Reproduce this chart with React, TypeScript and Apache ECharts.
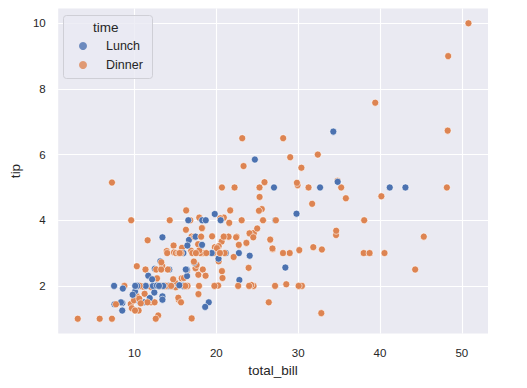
import React, { useEffect, useRef } from "react";
import * as echarts from "echarts";

// seaborn "tips" dataset: total_bill, tip, time (L = Lunch, D = Dinner)
const totalBill: number[] = [
  16.99, 10.34, 21.01, 23.68, 24.59, 25.29, 8.77, 26.88, 15.04, 14.78, 10.27, 35.26, 15.42, 18.43, 14.83, 21.58, 10.33, 16.29, 16.97, 20.65,
  17.92, 20.29, 15.77, 39.42, 19.82, 17.81, 13.37, 12.69, 21.7, 19.65, 9.55, 18.35, 15.06, 20.69, 17.78, 24.06, 16.31, 16.93, 18.69, 31.27,
  16.04, 17.46, 13.94, 9.68, 30.4, 18.29, 22.23, 32.4, 28.55, 18.04, 12.54, 10.29, 34.81, 9.94, 25.56, 19.49, 38.01, 26.41, 11.24, 48.27,
  20.29, 13.81, 11.02, 18.29, 17.59, 20.08, 16.45, 3.07, 20.23, 15.01, 12.02, 17.07, 26.86, 25.28, 14.73, 10.51, 17.92, 27.2, 22.76, 17.29,
  19.44, 16.66, 10.07, 32.68, 15.98, 34.83, 13.03, 18.28, 24.71, 21.16, 28.97, 22.49, 5.75, 16.32, 22.75, 40.17, 27.28, 12.03, 21.01, 12.46,
  11.35, 15.38, 44.3, 22.42, 20.92, 15.36, 20.49, 25.21, 18.24, 14.31, 14.0, 7.25, 38.07, 23.95, 25.71, 17.31, 29.93, 10.65, 12.43, 24.08,
  11.69, 13.42, 14.26, 15.95, 12.48, 29.8, 8.52, 14.52, 11.38, 22.82, 19.08, 20.27, 11.17, 12.26, 18.26, 8.51, 10.33, 14.15, 16.0, 13.16,
  17.47, 34.3, 41.19, 27.05, 16.43, 8.35, 18.64, 11.87, 9.78, 7.51, 14.07, 13.13, 17.26, 24.55, 19.77, 29.85, 48.17, 25.0, 13.39, 16.49,
  21.5, 12.66, 16.21, 13.81, 17.51, 24.52, 20.76, 31.71, 10.59, 10.63, 50.81, 15.81, 7.25, 31.85, 16.82, 32.9, 17.89, 14.48, 9.6, 34.63,
  34.65, 23.33, 45.35, 23.17, 40.55, 20.69, 20.9, 30.46, 18.15, 23.1, 15.69, 19.81, 28.44, 15.48, 16.58, 7.56, 10.34, 43.11, 13.0, 13.51,
  18.71, 12.74, 13.0, 16.4, 20.53, 16.47, 26.59, 38.73, 24.27, 12.76, 30.06, 25.89, 48.33, 13.27, 28.17, 12.9, 28.15, 11.59, 7.74, 30.14,
  12.16, 13.42, 8.58, 15.98, 13.42, 16.27, 10.09, 20.45, 13.28, 22.12, 24.01, 15.69, 11.61, 10.77, 15.53, 10.07, 12.6, 32.83, 35.83, 29.03,
  27.18, 22.67, 17.82, 18.78,
];

const tip: number[] = [
  1.01, 1.66, 3.5, 3.31, 3.61, 4.71, 2.0, 3.12, 1.96, 3.23, 1.71, 5.0, 1.57, 3.0, 3.02, 3.92, 1.67, 3.71, 3.5, 3.35,
  4.08, 2.75, 2.23, 7.58, 3.18, 2.34, 2.0, 2.0, 4.3, 3.0, 1.45, 2.5, 3.0, 2.45, 3.27, 3.6, 2.0, 3.07, 2.31, 5.0,
  2.24, 2.54, 3.06, 1.32, 5.6, 3.0, 5.0, 6.0, 2.05, 3.0, 2.5, 2.6, 5.2, 1.56, 4.34, 3.51, 3.0, 1.5, 1.76, 6.73,
  3.21, 2.0, 1.98, 3.76, 2.64, 3.15, 2.47, 1.0, 2.01, 2.09, 1.97, 3.0, 3.14, 5.0, 2.2, 1.25, 3.08, 4.0, 3.0, 2.71,
  3.0, 3.4, 1.83, 5.0, 2.03, 5.17, 2.0, 4.0, 5.85, 3.0, 3.0, 3.5, 1.0, 4.3, 3.25, 4.73, 4.0, 1.5, 3.0, 1.5,
  2.5, 3.0, 2.5, 3.48, 4.08, 1.64, 4.06, 4.29, 3.76, 4.0, 3.0, 1.0, 4.0, 2.55, 4.0, 3.5, 5.07, 1.5, 1.8, 2.92,
  2.31, 1.68, 2.5, 2.0, 2.52, 4.2, 1.48, 2.0, 2.0, 2.18, 1.5, 2.83, 1.5, 2.0, 3.25, 1.25, 2.0, 2.0, 2.0, 2.75,
  3.5, 6.7, 5.0, 5.0, 2.3, 1.5, 1.36, 1.63, 1.73, 2.0, 2.5, 2.0, 2.74, 2.0, 2.0, 5.14, 5.0, 3.75, 2.61, 2.0,
  3.5, 2.5, 2.0, 2.0, 3.0, 3.48, 2.24, 4.5, 1.61, 2.0, 10.0, 3.16, 5.15, 3.18, 4.0, 3.11, 2.0, 2.0, 4.0, 3.55,
  3.68, 5.65, 3.5, 6.5, 3.0, 5.0, 3.5, 2.0, 3.5, 4.0, 1.5, 4.19, 2.56, 2.02, 4.0, 1.44, 2.0, 5.0, 2.0, 2.0,
  4.0, 2.01, 2.0, 2.5, 4.0, 3.23, 3.41, 3.0, 2.03, 2.23, 2.0, 5.16, 9.0, 2.5, 6.5, 1.1, 3.0, 1.5, 1.44, 3.09,
  2.2, 3.48, 1.92, 3.0, 1.58, 2.5, 2.0, 3.0, 2.72, 2.88, 2.0, 3.0, 3.39, 1.47, 3.0, 1.25, 1.0, 1.17, 4.67, 5.92,
  2.0, 2.0, 1.75, 3.0,
];

const timeCode: string =
  "DDDDDDDDDDDDDDDDDDDD" +
  "DDDDDDDDDDDDDDDDDDDD" +
  "DDDDDDDDDDDDDDDDDDDD" +
  "DDDDDDDDDDDDDDDDDLLL" +
  "LLLLLLLLLLDDDDDDDDDD" +
  "DDDDDDDDDDDDDDDDDLLL" +
  "LLLLLLLLLLLLLLLLLLLL" +
  "LLLLLLLLLLDDDDDDDDDD" +
  "DDDDDDDDDDDDDDDDDDDD" +
  "DDDDDDDDDDDLLLLLLLLL" +
  "LLLLLLDDDDDDDDDDDDDD" +
  "LLLLLLLDDDDDDDDDDDDD" +
  "DDDD";

const categories: string[] = ["Lunch", "Dinner"];
const categoryColors: string[] = ["#4C72B0", "#DD8452"];
const xTicks: number[] = [10, 20, 30, 40, 50];
const yTicks: number[] = [2, 4, 6, 8, 10];

const FONT = "'Liberation Sans', Arial, 'DejaVu Sans', sans-serif";
const TEXT = "#262626";

export default function App() {
  const ref = useRef<HTMLDivElement>(null);

  useEffect(() => {
    document.body.style.margin = "0";
    if (!ref.current) return;
    const chart = echarts.init(ref.current, undefined, { renderer: "svg" });

    const points = totalBill.map((x, i) => {
      const ci = timeCode[i] === "L" ? 0 : 1;
      return { value: [x, tip[i]], itemStyle: { color: categoryColors[ci] } };
    });

    const xMin = 3.07 - (50.81 - 3.07) * 0.05;
    const xMax = 50.81 + (50.81 - 3.07) * 0.05;
    const yMin = 1 - 9 * 0.05;
    const yMax = 10 + 9 * 0.05;

    chart.setOption({
      animation: false,
      backgroundColor: "#ffffff",
      textStyle: { fontFamily: FONT, color: TEXT },
      grid: { left: 57, right: 39, top: 8.5, bottom: 54.5, show: true, backgroundColor: "#EAEAF2", borderWidth: 0 },
      xAxis: {
        type: "value",
        min: xMin,
        max: xMax,
        name: "total_bill",
        nameLocation: "middle",
        nameGap: 24,
        nameTextStyle: { fontSize: 13.5, color: TEXT, fontFamily: FONT, verticalAlign: "top" },
        axisLine: { show: false },
        axisTick: { show: false, customValues: xTicks },
        axisLabel: { customValues: xTicks, fontSize: 11.5, color: TEXT, fontFamily: FONT, margin: 13 },
        splitLine: { show: true, lineStyle: { color: "#ffffff", width: 1.1 } },
      },
      yAxis: {
        type: "value",
        min: yMin,
        max: yMax,
        name: "tip",
        nameLocation: "middle",
        nameGap: 36,
        nameTextStyle: { fontSize: 13.5, color: TEXT, fontFamily: FONT },
        axisLine: { show: false },
        axisTick: { show: false, customValues: yTicks },
        axisLabel: { customValues: yTicks, fontSize: 11.5, color: TEXT, fontFamily: FONT, margin: 12.5 },
        splitLine: { show: true, lineStyle: { color: "#ffffff", width: 1.1 } },
      },
      legend: categories.map((c, i) => ({
        data: [c],
        left: 79,
        top: 38 + i * 19,
        padding: 0,
        itemWidth: 8,
        itemHeight: 8,
        icon: "circle",
        textStyle: { fontSize: 12.5, color: TEXT, fontFamily: FONT, lineHeight: 16, padding: [0, 0, 0, 14] },
        selectedMode: false,
        z: 6,
      })),
      graphic: [
        {
          type: "rect",
          left: 63,
          top: 15,
          z: 5,
          shape: { width: 89, height: 63, r: 3 },
          style: { fill: "rgba(234,234,242,0.8)", stroke: "#cfcfd6", lineWidth: 1 },
        },
        {
          type: "text",
          left: 93,
          top: 20,
          z: 6,
          style: { text: "time", fontSize: 13.5, fill: TEXT, fontFamily: FONT },
        },
      ],
      series: [
        {
          name: "all",
          type: "scatter",
          data: points,
          symbolSize: 7,
          itemStyle: { borderColor: "#ffffff", borderWidth: 0.6, opacity: 1 },
          z: 3,
        },
        ...categories.map((c, i) => ({
          name: c,
          type: "scatter",
          data: [],
          itemStyle: { color: categoryColors[i] },
        })),
      ],
    });

    return () => chart.dispose();
  }, []);

  return <div ref={ref} style={{ width: 527, height: 388 }} />;
}
